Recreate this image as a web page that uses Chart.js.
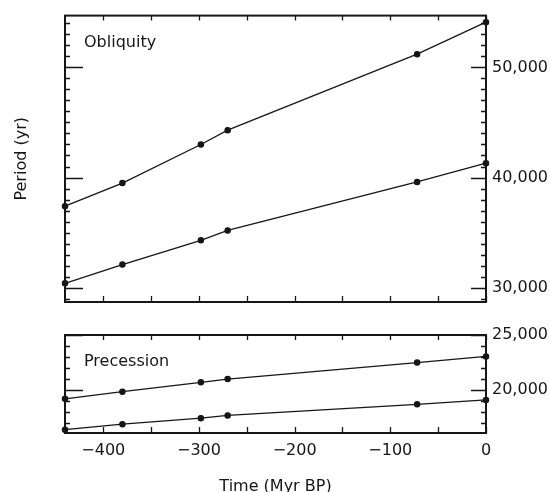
<!DOCTYPE html>
<html>
<head>
<meta charset="utf-8">
<script src="https://cdn.jsdelivr.net/npm/chart.js@4.4.1/dist/chart.umd.min.js"></script>
<style>
  html, body { margin: 0; padding: 0; background: #fff; overflow: hidden; }
  body { width: 550px; height: 492px; position: relative; }
  canvas { position: absolute; left: 0; }
  #topChart { top: 0; }
  #bottomChart { top: 318px; }
</style>
</head>
<body>
<canvas id="topChart" width="550" height="318"></canvas>
<canvas id="bottomChart" width="550" height="178"></canvas>
<script>
// time of each computed point (Myr before present)
const timeMyr = [-440, -380, -298, -270, -72, 0];

// periods in years
const obliquityLong  = [37400, 39500, 43000, 44300, 51200, 54100];
const obliquityShort = [30400, 32100, 34300, 35200, 39600, 41300];
const precessionLong  = [19200, 19850, 20700, 21000, 22500, 23050];
const precessionShort = [16400, 16900, 17450, 17700, 18700, 19100];

// tick labels
const xTicks = [-400, -300, -200, -100, 0];
const obliquityTicks = [30000, 40000, 50000];
const precessionTicks = [20000, 25000];

const ink = "#161616";
const font16 = { family: "'DejaVu Sans', sans-serif", size: 16 };

Chart.defaults.font.family = "'DejaVu Sans', sans-serif";
Chart.defaults.color = ink;

function pts(ys) {
    return timeMyr.map((t, i) => ({ x: t, y: ys[i] }));
}

function series(ys) {
    return {
        data: pts(ys),
        borderColor: ink,
        backgroundColor: ink,
        borderWidth: 1.3,
        pointRadius: 2.6,
        pointHoverRadius: 2.6,
        tension: 0,
        clip: false,
        yAxisID: "y"
    };
}

// frame, inward tick marks and panel label
const framePlugin = {
    id: "frame",
    afterDraw(chart, args, opts) {
        const ctx = chart.ctx;
        const a = chart.chartArea;
        const xs = chart.scales.x;
        const ys = chart.scales.y;
        ctx.save();
        ctx.strokeStyle = ink;
        ctx.lineWidth = 1.3;
        ctx.beginPath();
        for (let v = -400; v <= 0; v += 50) {
            const px = Math.round(xs.getPixelForValue(v)) + 0.5;
            ctx.moveTo(px, a.top); ctx.lineTo(px, a.top + 5);
            ctx.moveTo(px, a.bottom); ctx.lineTo(px, a.bottom - 6);
        }
        const lo = Math.ceil(ys.min / 1000) * 1000;
        for (let v = lo; v <= ys.max; v += 1000) {
            const py = Math.round(ys.getPixelForValue(v)) + 0.5;
            const major = opts.majors.includes(v);
            ctx.moveTo(a.left, py); ctx.lineTo(a.left + (major ? 18 : 5), py);
            ctx.moveTo(a.right, py); ctx.lineTo(a.right - (major ? 15 : 5), py);
        }
        ctx.stroke();
        ctx.lineWidth = 2;
        ctx.strokeRect(a.left, a.top, a.right - a.left, a.bottom - a.top);
        ctx.fillStyle = ink;
        ctx.font = "16px 'DejaVu Sans', sans-serif";
        ctx.textBaseline = "middle";
        ctx.fillText(opts.label, a.left + 19, a.top + 27);
        ctx.restore();
    }
};

function setTicks(values) {
    return function (scale) {
        scale.ticks = values.map(v => ({ value: v }));
    };
}

function fmtPeriod(v) {
    return Number(v).toLocaleString("en-US");
}

// top panel: obliquity
new Chart(document.getElementById("topChart"), {
    type: "line",
    data: { datasets: [series(obliquityLong), series(obliquityShort)] },
    plugins: [framePlugin],
    options: {
        responsive: false,
        animation: false,
        devicePixelRatio: 1,
        layout: { padding: { top: 15, right: 0, bottom: 0, left: 0 } },
        plugins: {
            legend: { display: false },
            tooltip: { enabled: false },
            frame: { label: "Obliquity", majors: obliquityTicks }
        },
        scales: {
            x: {
                type: "linear", min: -440, max: 0,
                grid: { display: false, drawTicks: false },
                border: { display: false },
                ticks: { display: false },
                afterFit(s) { s.height = 16; }
            },
            y: {
                position: "right", min: 28700, max: 54700,
                grid: { display: false, drawTicks: false },
                border: { display: false },
                afterBuildTicks: setTicks(obliquityTicks),
                ticks: { font: font16, padding: 6, callback: fmtPeriod },
                afterFit(s) { s.width = 64; }
            },
            yl: {
                position: "left", min: 28700, max: 54700,
                grid: { display: false, drawTicks: false },
                border: { display: false },
                ticks: { display: false },
                title: { display: true, text: "Period (yr)", font: font16, padding: { top: 12, bottom: 0 } },
                afterFit(s) { s.width = 65; }
            }
        }
    }
});

// bottom panel: precession
new Chart(document.getElementById("bottomChart"), {
    type: "line",
    data: { datasets: [series(precessionLong), series(precessionShort)] },
    plugins: [framePlugin],
    options: {
        responsive: false,
        animation: false,
        devicePixelRatio: 1,
        layout: { padding: { top: 17, right: 0, bottom: 0, left: 65 } },
        plugins: {
            legend: { display: false },
            tooltip: { enabled: false },
            frame: { label: "Precession", majors: precessionTicks }
        },
        scales: {
            x: {
                type: "linear", min: -440, max: 0,
                grid: { display: false, drawTicks: false },
                border: { display: false },
                afterBuildTicks: setTicks(xTicks),
                ticks: {
                    font: font16, padding: 8, maxRotation: 0,
                    callback: v => (v < 0 ? "\u2212" + Math.abs(v) : String(v))
                },
                title: { display: true, text: "Time (Myr BP)", font: font16, padding: { top: 0, bottom: 0 } },
                afterFit(s) { s.height = 63; }
            },
            y: {
                position: "right", min: 16100, max: 25000,
                grid: { display: false, drawTicks: false },
                border: { display: false },
                afterBuildTicks: setTicks(precessionTicks),
                ticks: { font: font16, padding: 6, callback: fmtPeriod },
                afterFit(s) { s.width = 64; }
            }
        }
    }
});
</script>
</body>
</html>
